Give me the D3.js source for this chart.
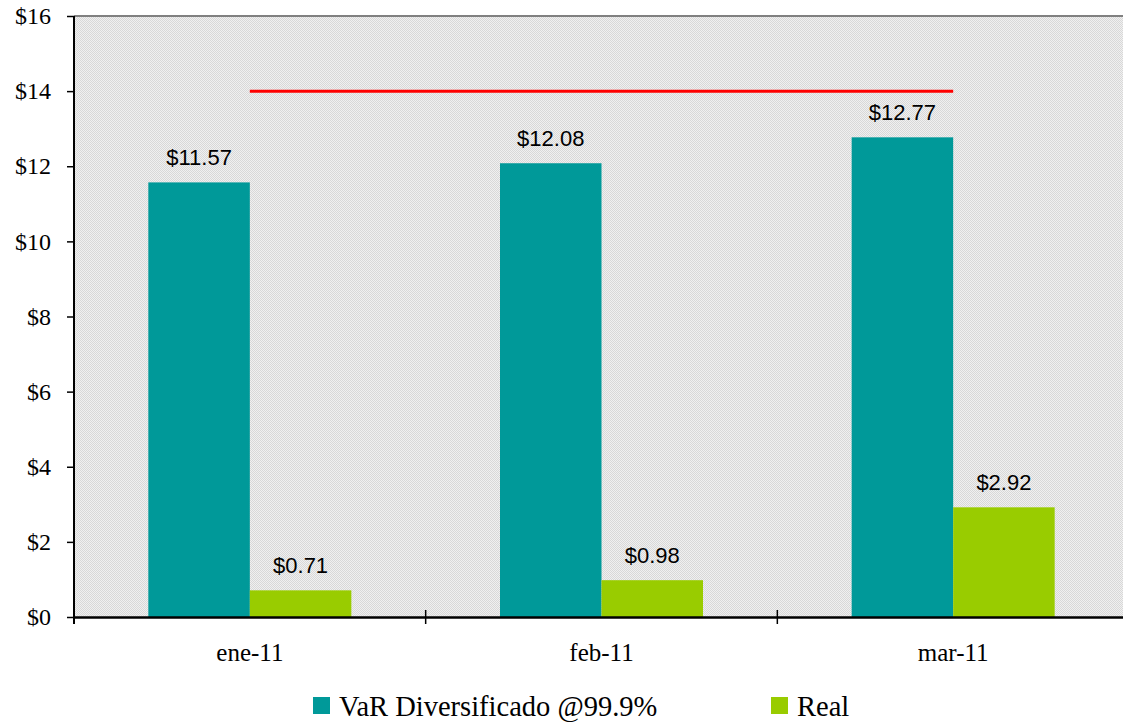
<!DOCTYPE html>
<html>
<head>
<meta charset="utf-8">
<script src="https://cdn.jsdelivr.net/npm/d3@7"></script>
<style>
  html, body { margin: 0; padding: 0; background: #fff; }
  svg { display: block; }
</style>
</head>
<body>
<div id="chart"></div>
<script>
const categories = ['ene-11', 'feb-11', 'mar-11']
const varValues = [11.57, 12.08, 12.77]
const realValues = [0.71, 0.98, 2.92]
const limitValues = [14, 14, 14]
const yTicks = [0, 2, 4, 6, 8, 10, 12, 14, 16]
const seriesNames = ['VaR Diversificado @99.9%', 'Real']
const colors = ['#009999', '#99cc00']

const width = 1123, height = 722
const margin = { top: 16, left: 74, bottom: 617 }
const plotRight = 1129
const serif = "'Liberation Serif', 'Times New Roman', serif"

const svg = d3.select('#chart').append('svg')
  .attr('width', width)
  .attr('height', height)

// checkered background fill
const defs = svg.append('defs')
const pat = defs.append('pattern')
  .attr('id', 'checker')
  .attr('width', 2).attr('height', 2)
  .attr('patternUnits', 'userSpaceOnUse')
pat.append('rect').attr('width', 2).attr('height', 2).attr('fill', '#f0f0f0')
pat.append('rect').attr('width', 1).attr('height', 1).attr('fill', '#d8d8d8')
pat.append('rect').attr('x', 1).attr('y', 1).attr('width', 1).attr('height', 1).attr('fill', '#d8d8d8')

const x = d3.scaleBand()
  .domain(categories)
  .range([margin.left, plotRight])

const y = d3.scaleLinear()
  .domain([0, 16])
  .range([margin.bottom, margin.top])

const barW = 101.5
const barOffset = -barW

svg.append('rect')
  .attr('x', margin.left)
  .attr('y', margin.top)
  .attr('width', plotRight - margin.left)
  .attr('height', margin.bottom - margin.top)
  .attr('fill', 'url(#checker)')

// top border
svg.append('line')
  .attr('x1', margin.left).attr('x2', plotRight)
  .attr('y1', margin.top).attr('y2', margin.top)
  .attr('stroke', '#808080').attr('stroke-width', 2)

// Bars
const series = [varValues, realValues]
series.forEach((vals, si) => {
  svg.append('g')
    .selectAll('rect')
    .data(vals)
    .join('rect')
    .attr('x', (d, i) => x(categories[i]) + x.bandwidth() / 2 + barOffset + si * barW)
    .attr('y', d => y(d))
    .attr('width', barW)
    .attr('height', d => y(0) - y(d))
    .attr('fill', colors[si])

  svg.append('g')
    .selectAll('text')
    .data(vals)
    .join('text')
    .attr('x', (d, i) => x(categories[i]) + x.bandwidth() / 2 + barOffset + si * barW + barW / 2)
    .attr('y', d => y(d) - 17)
    .attr('text-anchor', 'middle')
    .attr('font-family', "'Liberation Sans', Arial, sans-serif")
    .attr('font-size', 22)
    .attr('fill', '#000')
    .text(d => '$' + d.toFixed(2))
})

// Limit line
const line = d3.line()
  .x((d, i) => x(categories[i]) + x.bandwidth() / 2)
  .y(d => y(d))
svg.append('path')
  .datum(limitValues)
  .attr('d', line)
  .attr('fill', 'none')
  .attr('stroke', '#ff0000')
  .attr('stroke-width', 3)

// Y axis
const yAxis = svg.append('g')
  .attr('transform', `translate(${margin.left},0)`)
  .call(d3.axisLeft(y).tickValues(yTicks).tickSize(7).tickPadding(16).tickFormat(d => '$' + d))
yAxis.select('.domain').attr('stroke', '#000').attr('stroke-width', 2).attr('d', `M0,${margin.top}V${margin.bottom + 7}`)
yAxis.selectAll('.tick line').attr('stroke', '#000').attr('stroke-width', 1.5)
yAxis.selectAll('text')
  .attr('font-family', serif)
  .attr('font-size', 24)
  .attr('fill', '#000')

// X axis
const xAxis = svg.append('g')
  .attr('transform', `translate(0,${margin.bottom})`)
  .call(d3.axisBottom(x).tickSize(0).tickPadding(26))
xAxis.select('.domain').attr('stroke', '#000').attr('stroke-width', 2.5)
xAxis.selectAll('text')
  .attr('font-family', serif)
  .attr('font-size', 25)
  .attr('fill', '#000')

// separators between categories
svg.append('g')
  .selectAll('line')
  .data(categories.slice(1))
  .join('line')
  .attr('x1', d => x(d)).attr('x2', d => x(d))
  .attr('y1', margin.bottom - 7).attr('y2', margin.bottom + 7)
  .attr('stroke', '#000').attr('stroke-width', 1.5)

// Legend
const legendX = [313, 771]
const legend = svg.append('g')
  .selectAll('g')
  .data(seriesNames)
  .join('g')
  .attr('transform', (d, i) => `translate(${legendX[i]},697)`)
legend.append('rect')
  .attr('width', 17).attr('height', 17)
  .attr('fill', (d, i) => colors[i])
legend.append('text')
  .attr('x', 26).attr('y', 19)
  .attr('font-family', serif)
  .attr('font-size', 28.5)
  .attr('fill', '#000')
  .text(d => d)
</script>
</body>
</html>
